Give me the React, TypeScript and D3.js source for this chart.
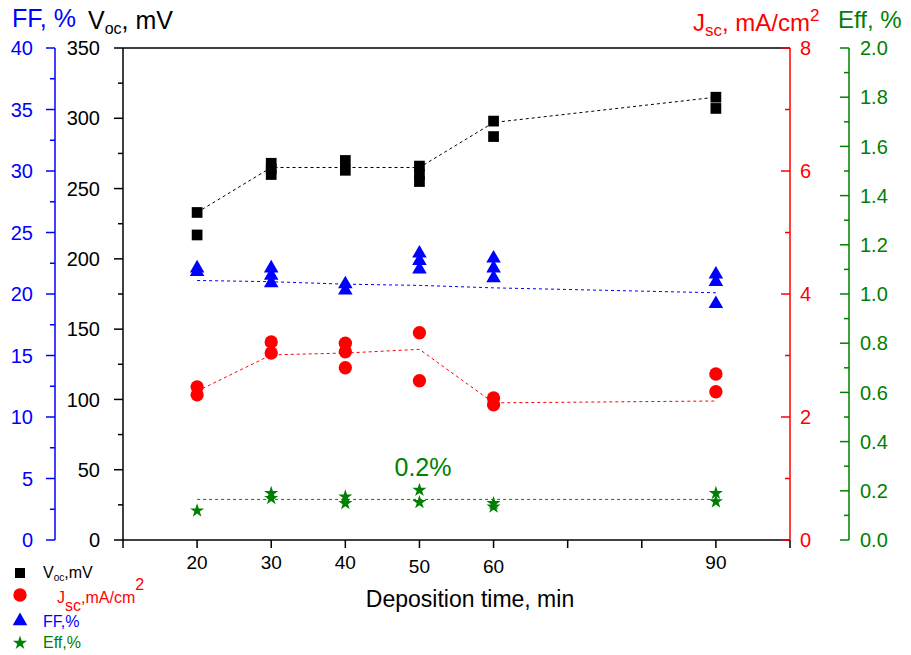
import * as d3 from "d3";

// deposition times (min)
const times = [20, 30, 40, 50, 60, 90];
const xTicks = [10, 20, 30, 40, 50, 60, 70, 80, 90, 100];
const xLabels = [20, 30, 40, 50, 60, 90];
const xLabelShift = [0, 0, 0, 4, 4, 0];

// measured values per deposition time
const vocValues = [[233, 217], [268, 264, 260], [270, 263], [266, 260, 255], [298, 287], [315, 307]];
const vocMean = [233, 265, 265, 265, 297, 315];

const jscValues = [[2.49, 2.36], [3.22, 3.04], [3.2, 3.06, 2.8], [3.37, 2.59], [2.31, 2.2], [2.7, 2.41]];
const jscMean = [2.42, 3.01, 3.04, 3.1, 2.23, 2.26];

const ffValues = [[22.1, 21.8], [22.1, 21.5, 20.9], [20.8, 20.3], [23.3, 22.7, 22.0], [22.9, 22.1, 21.3], [21.6, 21.0, 19.2]];
const ffMean = [21.1, 21.0, 20.8, 20.7, 20.5, 20.1];

const effValues = [[0.119], [0.19, 0.17], [0.176, 0.149], [0.203, 0.153], [0.149, 0.135], [0.19, 0.156]];
const effMean = [0.165, 0.165, 0.165, 0.165, 0.165, 0.165];

const vocTicks = d3.range(0, 351, 50);
const ffTicks = d3.range(0, 41, 5);
const jscTicks = [0, 2, 4, 6, 8];
const effTicks = d3.range(0, 2.01, 0.2);

const font = "Arial, 'Liberation Sans', sans-serif";
const BLUE = "#0000ff";
const RED = "#ff0000";
const GREEN = "#008000";

export default function App() {
  const width = 911;
  const height = 655;
  const top = 48;
  const bottom = 540;

  const x = d3.scaleLinear().domain([10, 100]).range([123, 790]);
  const yVoc = d3.scaleLinear().domain([0, 350]).range([bottom, top]);
  const yFF = d3.scaleLinear().domain([0, 40]).range([bottom, top]);
  const yJsc = d3.scaleLinear().domain([0, 8]).range([bottom, top]);
  const yEff = d3.scaleLinear().domain([0, 2]).range([bottom, top]);

  const square = d3.symbol(d3.symbolSquare, 115)();
  const circle = d3.symbol(d3.symbolCircle, 140)();
  const triangle = d3.symbol(d3.symbolTriangle, 92)();
  const star = d3.symbol(d3.symbolStar, 62)();

  const line = (scale, values) =>
    d3
      .line<number>()
      .x((_, i) => x(times[i]))
      .y((d) => scale(d))(values);

  const series = [
    { values: vocValues, mean: vocMean, scale: yVoc, color: "#000", shape: square },
    { values: ffValues, mean: ffMean, scale: yFF, color: BLUE, shape: triangle },
    { values: jscValues, mean: jscMean, scale: yJsc, color: RED, shape: circle },
    { values: effValues, mean: effMean, scale: yEff, color: GREEN, shape: star },
  ];

  // vertical axis, ticks always point left
  const vAxis = (ax, scale, ticks, minor, color, labelX, anchor, fmt) => (
    <g>
      <line x1={ax} x2={ax} y1={top} y2={bottom} stroke={color} strokeWidth={1.5} />
      {minor.map((t) => (
        <line key={"m" + t} x1={ax} x2={ax - 5} y1={scale(t)} y2={scale(t)} stroke={color} strokeWidth={1.5} />
      ))}
      {ticks.map((t) => (
        <g key={t}>
          <line x1={ax} x2={ax - 9} y1={scale(t)} y2={scale(t)} stroke={color} strokeWidth={1.5} />
          <text x={labelX} y={scale(t)} dy="0.36em" textAnchor={anchor} fill={color} fontSize={20}>
            {fmt(t)}
          </text>
        </g>
      ))}
    </g>
  );

  return (
    <svg width={width} height={height} style={{ display: "block", position: "absolute", left: 0, top: 0 }} fontFamily={font}>
      <rect width={width} height={height} fill="#fff" />

      {/* axis titles */}
      <text x={12} y={27} fontSize={25} fill={BLUE}>FF, %</text>
      <text x={88} y={29} fontSize={25} fill="#000">
        V<tspan fontSize={16} dy={5}>oc</tspan>
        <tspan dy={-5}>, mV</tspan>
      </text>
      <text x={693} y={31} fontSize={24} fill={RED}>
        J<tspan fontSize={17} dy={5}>sc</tspan>
        <tspan dy={-5}>, mA/cm</tspan>
        <tspan fontSize={17} dy={-10}>2</tspan>
      </text>
      <text x={838} y={28} fontSize={24} fill={GREEN}>Eff, %</text>

      {/* frame */}
      <line x1={123} x2={790} y1={top} y2={top} stroke="#000" strokeWidth={1.5} />
      <line x1={123} x2={790} y1={bottom} y2={bottom} stroke="#000" strokeWidth={1.5} />

      {vAxis(55, yFF, ffTicks, d3.range(2.5, 40, 5), BLUE, 33, "end", (t) => t)}
      {vAxis(123, yVoc, vocTicks, d3.range(25, 350, 50), "#000", 100, "end", (t) => t)}
      {vAxis(790, yJsc, jscTicks, [1, 3, 5, 7], RED, 800, "start", (t) => t)}
      {vAxis(849, yEff, effTicks, d3.range(0.1, 2, 0.2), GREEN, 860, "start", (t) => t.toFixed(1))}

      {/* x axis ticks */}
      {xTicks.map((t) => (
        <line key={t} x1={x(t)} x2={x(t)} y1={bottom} y2={bottom + 8} stroke="#000" strokeWidth={1.5} />
      ))}
      {xLabels.map((t, i) => (
        <text key={t} x={x(t)} y={569 + xLabelShift[i]} textAnchor="middle" fontSize={19}>{t}</text>
      ))}
      <text x={470} y={607} textAnchor="middle" fontSize={23}>Deposition time, min</text>

      {/* mean lines */}
      {series.map((s, i) => (
        <path key={i} d={line(s.scale, s.mean)} fill="none" stroke={s.color} strokeWidth={1} strokeDasharray="3,3" />
      ))}

      {/* points */}
      {series.map((s, i) =>
        s.values.map((vals, j) =>
          vals.map((v, k) => (
            <path key={`${i}-${j}-${k}`} d={s.shape} transform={`translate(${x(times[j])},${s.scale(v)})`} fill={s.color} />
          )),
        ),
      )}

      <text x={423} y={476} textAnchor="middle" fontSize={25} fill={GREEN}>0.2%</text>

      {/* legend */}
      <path d={d3.symbol(d3.symbolSquare, 100)()} transform="translate(20,573)" fill="#000" />
      <text x={43} y={578} fontSize={16}>
        V<tspan fontSize={10} dy={3}>oc</tspan>
        <tspan dy={-3}>,mV</tspan>
      </text>
      <path d={circle} transform="translate(20,595)" fill={RED} />
      <text x={57} y={603} fontSize={16} fill={RED}>
        J<tspan dy={8}>sc</tspan>
        <tspan dy={-8}>,mA/cm</tspan>
        <tspan dy={-13}>2</tspan>
      </text>
      <path d={triangle} transform="translate(20,621)" fill={BLUE} />
      <text x={43} y={627} fontSize={16} fill={BLUE}>FF,%</text>
      <path d={star} transform="translate(20,643)" fill={GREEN} />
      <text x={43} y={648} fontSize={16} fill={GREEN}>Eff,%</text>
    </svg>
  );
}
